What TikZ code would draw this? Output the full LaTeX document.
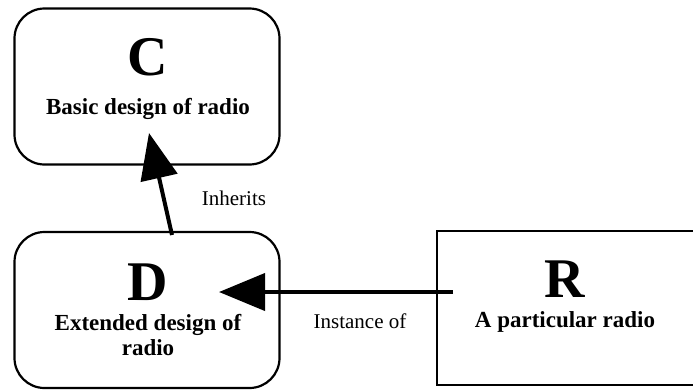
\documentclass[tikz,border=0pt]{standalone}
\usepackage{fontspec}
\setmainfont{Liberation Serif}
\usetikzlibrary{arrows.meta}
\tikzset{
  roundbox/.style={draw, line width=2.2pt, rounded corners=30pt, minimum width=265pt, minimum height=156pt, inner sep=0pt},
  sqbox/.style={draw, line width=2.2pt, minimum width=268pt, minimum height=154pt, inner sep=0pt},
  bigletter/.style={font=\bfseries\fontsize{56}{56}\selectfont, inner sep=0pt},
  caption/.style={font=\bfseries\fontsize{23}{25}\selectfont, align=center, inner sep=0pt},
  lbl/.style={font=\fontsize{21}{23}\selectfont, inner sep=0pt},
  bigarrow/.style={line width=4pt, -{Triangle[length=46pt,width=37pt]}}
}
\begin{document}
\begin{tikzpicture}[x=1pt,y=-1pt]
\useasboundingbox (0,0) rectangle (693,389);
\node[roundbox] (C) at (147,86.5) {};
\node[roundbox] (D) at (147,310) {};
\node[sqbox] (R) at (571,308) {};
\node[bigletter] (Cl) at (148,57) {C};
\node[caption] (Ct) at (148,109) {Basic design of radio};
\node[bigletter] (Dl) at (148,282) {D};
\node[caption] (Dt) at (148,335) {Extended design of\\radio};
\node[bigletter] (Rl) at (565,279) {R};
\node[caption] (Rt) at (565,322) {A particular radio};
\coordinate (inhS) at (172,235);
\coordinate (inhT) at (149,133);
\coordinate (insS) at (453,292);
\coordinate (insT) at (219,292);
\draw[bigarrow] (inhS) -- (inhT);
\draw[bigarrow] (insS) -- (insT);
\node[lbl] (il) at (234,198) {Inherits};
\node[lbl] (nl) at (360,321) {Instance of};
\end{tikzpicture}
\end{document}
